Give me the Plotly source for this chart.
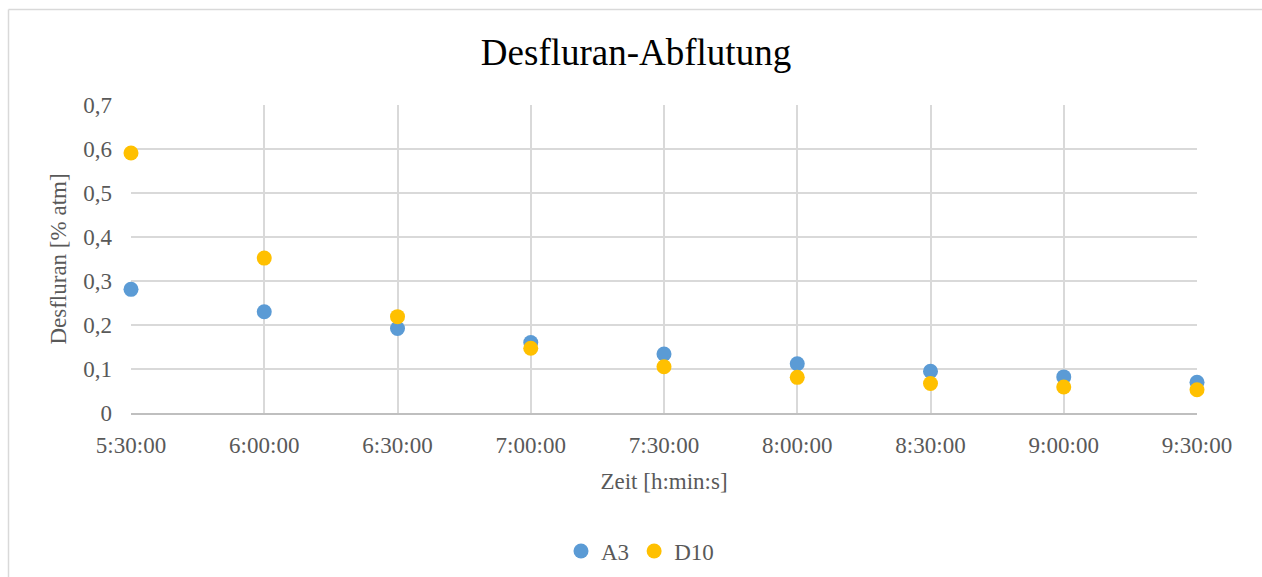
import plotly.graph_objects as go

# Dane
zeit = ["5:30:00", "6:00:00", "6:30:00", "7:00:00", "7:30:00",
        "8:00:00", "8:30:00", "9:00:00", "9:30:00"]
a3 = [0.281, 0.230, 0.192, 0.160, 0.134, 0.112, 0.095, 0.082, 0.070]
d10 = [0.591, 0.352, 0.219, 0.147, 0.105, 0.081, 0.067, 0.059, 0.053]

font_family = "Liberation Serif, Times New Roman, serif"
tick_color = "#595959"
grid_color = "#d9d9d9"

fig = go.Figure()

fig.add_trace(go.Scatter(
    x=zeit, y=a3, mode="markers", name="A3",
    marker=dict(color="#5B9BD5", size=15),
    cliponaxis=False
))
fig.add_trace(go.Scatter(
    x=zeit, y=d10, mode="markers", name="D10",
    marker=dict(color="#FFC000", size=15),
    cliponaxis=False
))

# Ramka wykresu (góra i lewa krawędź)
frame_left = (8.5 - 131) / 1066
frame_top = (413 - 9.5) / 308
border = dict(color="#d9d9d9", width=1.5)
fig.add_shape(type="line", xref="paper", yref="paper",
              x0=frame_left, x1=1.2, y0=frame_top, y1=frame_top,
              line=border, layer="below")
fig.add_shape(type="line", xref="paper", yref="paper",
              x0=frame_left, x1=frame_left, y0=-0.6, y1=frame_top,
              line=border, layer="below")

fig.update_layout(
    width=1262, height=577,
    margin=dict(l=131, r=65, t=105, b=164, autoexpand=False),
    paper_bgcolor="white", plot_bgcolor="white",
    separators=",.",
    font=dict(family=font_family, size=23, color=tick_color),
    title=dict(
        text="Desfluran-Abflutung",
        font=dict(family=font_family, size=37, color="black"),
        x=636 / 1262, xanchor="center",
        y=1 - 52 / 577, yanchor="middle"
    ),
    xaxis=dict(
        type="category", range=[0, 8], automargin=False,
        showgrid=True, gridcolor=grid_color, gridwidth=1.5,
        showline=True, linecolor="#bfbfbf", linewidth=1.5,
        ticks="", ticklabelstandoff=11,
        tickfont=dict(size=23, color=tick_color),
        title=dict(text="Zeit [h:min:s]", standoff=16,
                   font=dict(size=23, color=tick_color)),
        zeroline=False
    ),
    yaxis=dict(
        range=[0, 0.7], dtick=0.1, automargin=False,
        showgrid=True, gridcolor=grid_color, gridwidth=1.5,
        ticks="", ticklabelstandoff=18,
        tickfont=dict(size=23, color=tick_color),
        title=dict(text="Desfluran [% atm]", standoff=10,
                   font=dict(size=23, color=tick_color)),
        zeroline=False
    ),
    legend=dict(
        orientation="h",
        x=(640 - 131) / 1066, xanchor="center",
        y=(413 - 551) / 308, yanchor="middle",
        font=dict(size=23, color=tick_color),
        itemwidth=30, tracegroupgap=0
    ),
    showlegend=True
)

fig.write_html(
    "out.html", config={"displayModeBar": False},
    post_script="document.body.style.margin='0';"
                "document.body.style.overflow='hidden';"
)
